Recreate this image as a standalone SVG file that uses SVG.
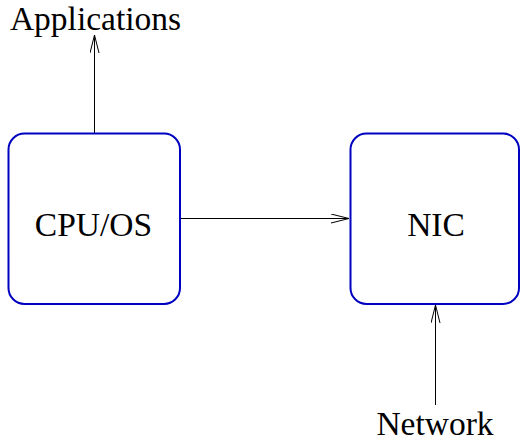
<svg xmlns="http://www.w3.org/2000/svg" width="520" height="442" viewBox="0 0 520 442">
  <defs>
    <marker id="open" markerWidth="20" markerHeight="12" refX="18" refY="5" orient="auto" markerUnits="userSpaceOnUse">
      <path d="M0,0.5 L18,5 L0,9.5" fill="none" stroke="#000" stroke-width="1"/>
    </marker>
  </defs>
  <style>
    .box { fill: #fff; stroke: #0000c0; stroke-width: 2; }
    .lbl { font-family: "Liberation Serif", "Times New Roman", serif; font-size: 33.5px; fill: #000; text-anchor: middle; }
    .wire { stroke: #000; stroke-width: 1; fill: none; marker-end: url(#open); }
  </style>
  <rect width="520" height="442" fill="#fff"/>

  <g id="connectors">
    <line class="wire" x1="94.5" y1="133" x2="94.5" y2="35"/>
    <line class="wire" x1="180" y1="218.5" x2="349" y2="218.5"/>
    <line class="wire" x1="435.5" y1="405" x2="435.5" y2="305"/>
  </g>

  <g id="cpu">
    <rect class="box" x="8.5" y="133.5" width="171.5" height="170.5" rx="16"/>
    <text class="lbl" x="93.5" y="236">CPU/OS</text>
  </g>

  <g id="nic">
    <rect class="box" x="350.5" y="133.5" width="168.5" height="170.5" rx="16"/>
    <text class="lbl" x="436" y="236">NIC</text>
  </g>

  <g id="applications">
    <text class="lbl" x="95.5" y="30">Applications</text>
  </g>

  <g id="network">
    <text class="lbl" x="435" y="435">Network</text>
  </g>
</svg>
